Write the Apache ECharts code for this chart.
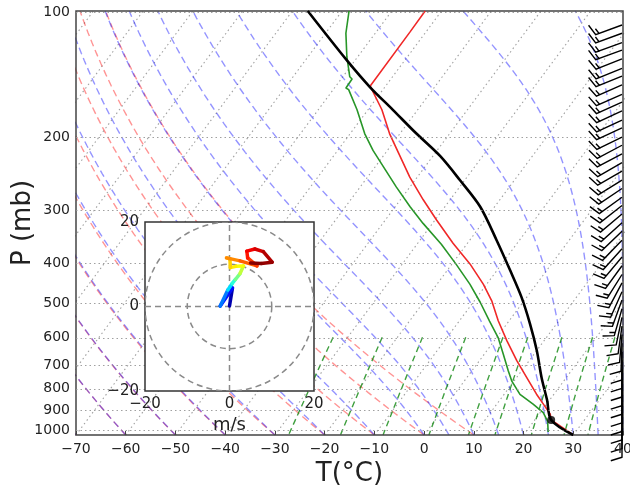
<!DOCTYPE html>
<html><head><meta charset="utf-8">
<script src="https://cdn.jsdelivr.net/npm/echarts@6/dist/echarts.min.js"></script>
<style>html,body{margin:0;padding:0;background:#fff}#c{width:630px;height:488px}</style>
</head><body><div id="c"></div>
<script>
// ---------------- data ----------------
const tempP = [100,112,151,172,196,218,249,282,315,358,401,448,491,548,611,682,748,820,865,914,944.6,1026];
const tempT = [-63.3,-63.2,-63.1,-57.2,-52.1,-47.4,-41.5,-35.4,-29.7,-22.9,-16.4,-10.7,-6.5,-2.2,2.5,7.5,12.0,16.5,19.3,22.2,23.3,30.0];
const dewP = [100,113,128.5,143.5,145.3,152.6,154,172,196,215,235,263,293,321,360,402,448,495,549,601,658,721,762,821,866,907,952,1009];
const dewT = [-78.6,-75.9,-72.2,-68.6,-67.8,-67.7,-66.9,-62.2,-57.1,-52.9,-48.4,-42.7,-37.0,-31.9,-25.1,-19.1,-13.4,-8.6,-3.9,0.3,3.8,7.3,9.5,13.2,17.3,20.6,22.8,24.5];
const parcelP = [100,131,151.6,172.3,196,222,253,293,352,416,482,558,645,748,847,944.6,1026];
const parcelT = [-86.9,-71.7,-63.1,-54.9,-46.7,-38.5,-31.0,-22.9,-14.6,-7.3,-1.0,4.7,10.0,15.0,19.5,23.3,30.0];
const lclP = [944.6];
const lclT = [23.3];
const barbP = [108,113,119,124,130,137,143,150,158,165,173,182,190,200,209,219,230,241,253,265,278,291,305,320,335,352,369,386,405,425,445,467,489,513,538,564,591,620,650,681,714,749,785,823,863,904,948,994];
const barbSpd = [15,15,15,15,15,15,15,15,15,15,15,15,15,15,15,15,15,15,15,15,15,15,15,15,15,15,15,15,15,15,15,15,15,15,10,10,10,10,10,10,10,10,10,10,10,10,10,10];
const barbDir = [250,250,250,250,248,248,248,246,246,246,245,245,245,244,242,242,240,240,238,236,234,232,230,228,226,224,222,220,216,212,208,204,200,196,192,188,185,182,180,180,180,180,180,180,180,180,180,180];
const hodoU = [0.0,0.7,-2.2,-0.4,0.6,1.4,2.5,3.3,1.5,0.2,0.1,-0.7,2.5,6.5,4.3,4.1,6.0,8.0,10.1,7.5,5.0];
const hodoV = [0.1,4.4,0.1,3.9,5.4,6.4,7.8,9.6,9.5,9.2,11.3,11.5,10.8,9.6,11.5,13.1,13.6,13.0,10.5,10.2,10.3];
const hodoH = [0,1.5,3,4.8,6.1,7.2,8.5,9.6,10.1,10.4,11,11.5,12.2,12.8,13.4,13.9,14.4,14.9,15.5,15.8,16];
const xTicks = [-70,-60,-50,-40,-30,-20,-10,0,10,20,30,40];
const pTicks = [100,200,300,400,500,600,700,800,900,1000];
const hodoTicks = [-20,0,20];
const ringRadii = [10,20];
const isoT = [-160,-150,-140,-130,-120,-110,-100,-90,-80,-70,-60,-50,-40,-30,-20,-10,0,10,20,30,40];
const dryT0 = [-70,-60,-50,-40,-30,-20,-10,0,10];
const moistT0 = [-70,-60,-50,-40,-30,-20,-10,0,5,10,15,20,25,30,35,40];
const mixW = [0.0004,0.001,0.002,0.004,0.007,0.01,0.016,0.024,0.032];

// ---------------- skew-T transform ----------------
const PB = 1026, PT = 100, XMIN = xTicks[0], XMAX = xTicks[xTicks.length-1];
const K = Math.tan(Math.PI/6)*(XMAX-XMIN)/Math.log(PB/PT);
function sk(T,p){ return [T + K*Math.log(PB/p), Math.log(p)]; }
function fmt(v){ return v<0 ? '\u2212'+(-v) : String(v); }

function es(Tk){ const tc=Tk-273.15; return 6.112*Math.exp(17.67*tc/(tc+243.5)); }
function rsat(p,Tk){ const e=es(Tk); return 0.622*e/(p-e); }
function dTdlnp(p,Tk){
  const Rd=287.04749, Lv=2.50084e6, Cp=1004.6662, eps=0.622;
  const r=rsat(p,Tk);
  return (Rd*Tk + Lv*r)/(Cp + Lv*Lv*r*eps/(Rd*Tk*Tk));
}
function moistLine(T0){
  const n=60, pts=[];
  let T=T0+273.15, lp=Math.log(PB);
  const h=(Math.log(PT)-Math.log(PB))/n;
  pts.push(sk(T-273.15, PB));
  for(let i=0;i<n;i++){
    const f=(l,t)=>dTdlnp(Math.exp(l),t);
    const k1=f(lp,T), k2=f(lp+h/2,T+h*k1/2), k3=f(lp+h/2,T+h*k2/2), k4=f(lp+h,T+h*k3);
    T+=h*(k1+2*k2+2*k3+k4)/6; lp+=h;
    pts.push(sk(T-273.15, Math.exp(lp)));
  }
  return pts;
}
function logSpace(a,b,n){ const r=[]; for(let i=0;i<=n;i++) r.push(Math.exp(Math.log(a)+(Math.log(b)-Math.log(a))*i/n)); return r; }

const series = [];
const GRIDC = 'rgba(150,150,150,0.9)';
const bg = (data, color, dash, w, z) => ({type:'line', data, showSymbol:false, silent:true, clip:true, z:z||1,
  lineStyle:{color, width:w, type:dash}, xAxisIndex:0, yAxisIndex:0});

isoT.forEach(T=> series.push(bg([sk(T,PB), sk(T,PT)], GRIDC, [1.5,3], 1.1)));
dryT0.forEach(T0=>{
  const d = logSpace(PB,PT,40).map(p=> sk((T0+273.15)*Math.pow(p/PB,0.2857)-273.15, p));
  series.push(bg(d, 'rgba(255,0,0,0.42)', [7,4], 1.4));
});
moistT0.forEach(T0=> series.push(bg(moistLine(T0), 'rgba(0,0,255,0.42)', [7,4], 1.4)));
mixW.forEach(w=>{
  const d = logSpace(600,PB,20).map(p=>{ const e=p*w/(0.622+w); const l=Math.log(e/6.112); return sk(243.5*l/(17.67-l), p); });
  series.push(bg(d, 'rgba(0,128,0,0.75)', [6,4], 1.4));
});

// pressure gridlines + labels
series.push({type:'line', data:[], xAxisIndex:0, yAxisIndex:0, silent:true,
  markLine:{silent:true, symbol:['none','none'], animation:false,
    lineStyle:{color:GRIDC, width:1.1, type:[1.5,3]},
    label:{show:true, position:'start', distance:6, fontSize:14, color:'#222', fontFamily:'DejaVu Sans', formatter:p=>p.name},
    data: pTicks.map(p=>({yAxis:Math.log(p), name:String(p)}))}});

// profiles
series.push({type:'line', data: tempP.map((p,i)=>sk(tempT[i],p)), showSymbol:false, z:3, clip:true,
  lineStyle:{color:'#f02828', width:1.6}});
series.push({type:'line', data: dewP.map((p,i)=>sk(dewT[i],p)), showSymbol:false, z:3, clip:true,
  lineStyle:{color:'#289628', width:1.6}});
series.push({type:'line', data: parcelP.map((p,i)=>sk(parcelT[i],p)), showSymbol:false, z:4, clip:true, smooth:0.3,
  lineStyle:{color:'#000', width:2.6}});
series.push({type:'scatter', data: lclP.map((p,i)=>sk(lclT[i],p)), symbolSize:8, z:5, itemStyle:{color:'#000'}});

// wind barbs
series.push({type:'custom', xAxisIndex:0, yAxisIndex:0, z:6, clip:false, silent:true,
  data: barbP.map((p,i)=>[XMAX, Math.log(p), barbSpd[i], barbDir[i]]),
  encode:{x:0,y:1},
  renderItem:(params, api)=>{
    const a = api.coord([api.value(0), api.value(1)]);
    a[0] -= 1;
    let spd = Math.round(api.value(2)/5)*5;
    const d = api.value(3)*Math.PI/180;
    const L=28, H=0.4*L, W=0.25*L, SP=0.125*L;
    const s=[Math.sin(d), -Math.cos(d)], f=[Math.cos(d), Math.sin(d)];
    const pts=[[a[0],a[1]]];
    let nfull=Math.floor(spd/10), half=(spd%10)>=5, off=L;
    for(let k=0;k<nfull;k++){
      const bx=a[0]+s[0]*off, by=a[1]+s[1]*off;
      pts.push([bx,by],[bx+f[0]*H+s[0]*W/2, by+f[1]*H+s[1]*W/2],[bx,by]); off-=SP;
    }
    if(half){ if(off===L) off-=1.5*SP;
      const bx=a[0]+s[0]*off, by=a[1]+s[1]*off;
      pts.push([bx,by],[bx+f[0]*H/2+s[0]*W/4, by+f[1]*H/2+s[1]*W/4],[bx,by]);
    }
    if(nfull===0 && !half) pts.push([a[0]+s[0]*L, a[1]+s[1]*L]);
    return {type:'polyline', shape:{points:pts}, style:{stroke:'#000', fill:null, lineWidth:1.4, lineJoin:'miter'}};
  }});

// hodograph
function jet(t){ const c=v=>Math.round(255*Math.max(0,Math.min(1,v)));
  return 'rgb('+c(1.5-Math.abs(4*t-3))+','+c(1.5-Math.abs(4*t-2))+','+c(1.5-Math.abs(4*t-1))+')'; }
series.push({type:'custom', xAxisIndex:1, yAxisIndex:1, z:22, silent:true, clip:true,
  data: ringRadii.map(r=>[r,0]), encode:{x:0,y:1},
  renderItem:(params, api)=>{
    const c=api.coord([0,0]); const r=api.size([api.value(0),0])[0];
    return {type:'circle', shape:{cx:c[0],cy:c[1],r}, style:{fill:null, stroke:'#8a8a8a', lineWidth:1.5, lineDash:[6,4]}};
  }});
series.push({type:'custom', xAxisIndex:1, yAxisIndex:1, z:22, silent:true, clip:true,
  data: [[hodoTicks[0],0,hodoTicks[2],0],[0,hodoTicks[0],0,hodoTicks[2]]], encode:{x:[0,2],y:[1,3]},
  renderItem:(params, api)=>{
    const p1=api.coord([api.value(0),api.value(1)]), p2=api.coord([api.value(2),api.value(3)]);
    return {type:'line', shape:{x1:p1[0],y1:p1[1],x2:p2[0],y2:p2[1]}, style:{stroke:'#8a8a8a', lineWidth:1.5, lineDash:[6,4]}};
  }});
const hMax = hodoH[hodoH.length-1];
const segs=[]; for(let i=0;i<hodoU.length-1;i++) segs.push([hodoU[i],hodoV[i],hodoU[i+1],hodoV[i+1], (hodoH[i]+hodoH[i+1])/2/hMax]);
series.push({type:'custom', xAxisIndex:1, yAxisIndex:1, z:23, silent:true, clip:true,
  data: segs, encode:{x:[0,2],y:[1,3]},
  renderItem:(params, api)=>{
    const p1=api.coord([api.value(0),api.value(1)]), p2=api.coord([api.value(2),api.value(3)]);
    return {type:'line', shape:{x1:p1[0],y1:p1[1],x2:p2[0],y2:p2[1]}, style:{stroke:jet(api.value(4)), lineWidth:3.5, lineCap:'round'}};
  }});

const FONT='DejaVu Sans';
const option = {
  animation:false,
  textStyle:{fontFamily:FONT},
  grid:[
    {left:76, top:11, width:547, height:424, show:true, borderColor:'#444', borderWidth:1.5, backgroundColor:'rgba(0,0,0,0)', z:2, containLabel:false, outerBoundsMode:'none'},
    {left:145, top:222, width:169, height:169, show:true, borderColor:'#333', borderWidth:1.5, backgroundColor:'#fff', z:20, containLabel:false, outerBoundsMode:'none'}
  ],
  xAxis:[
    {gridIndex:0, type:'value', min:XMIN, max:XMAX, interval:10, z:8,
     axisLine:{show:false}, splitLine:{show:false},
     axisTick:{show:true, inside:true, length:4, lineStyle:{color:'#444'}},
     axisLabel:{fontSize:14, color:'#222', margin:7, formatter:fmt, fontFamily:FONT},
     name:'T(°C)', nameLocation:'middle', nameGap:25, nameTextStyle:{fontSize:26, color:'#222', fontFamily:FONT, verticalAlign:'top'}},
    {gridIndex:1, type:'value', min:-20, max:20, interval:20, z:24,
     axisLine:{show:false}, splitLine:{show:false}, axisTick:{show:false},
     axisLabel:{fontSize:15, color:'#222', margin:6, formatter:fmt, fontFamily:FONT},
     name:'m/s', nameLocation:'middle', nameGap:25, nameTextStyle:{fontSize:18, color:'#222', fontFamily:FONT, verticalAlign:'top'}}
  ],
  yAxis:[
    {gridIndex:0, type:'value', inverse:true, min:Math.log(PT), max:Math.log(PB), z:8,
     axisLine:{show:false}, axisTick:{show:false}, axisLabel:{show:false}, splitLine:{show:false},
     name:'P (mb)', nameLocation:'middle', nameGap:40, nameRotate:90, nameTextStyle:{fontSize:26, color:'#222', fontFamily:FONT}},
    {gridIndex:1, type:'value', min:-20, max:20, interval:20, z:24,
     axisLine:{show:false}, splitLine:{show:false}, axisTick:{show:false},
     axisLabel:{fontSize:15, color:'#222', margin:6, formatter:fmt, fontFamily:FONT}}
  ],
  series
};
const chart = echarts.init(document.getElementById('c'), null, {renderer:'canvas'});
chart.setOption(option);
</script></body></html>
